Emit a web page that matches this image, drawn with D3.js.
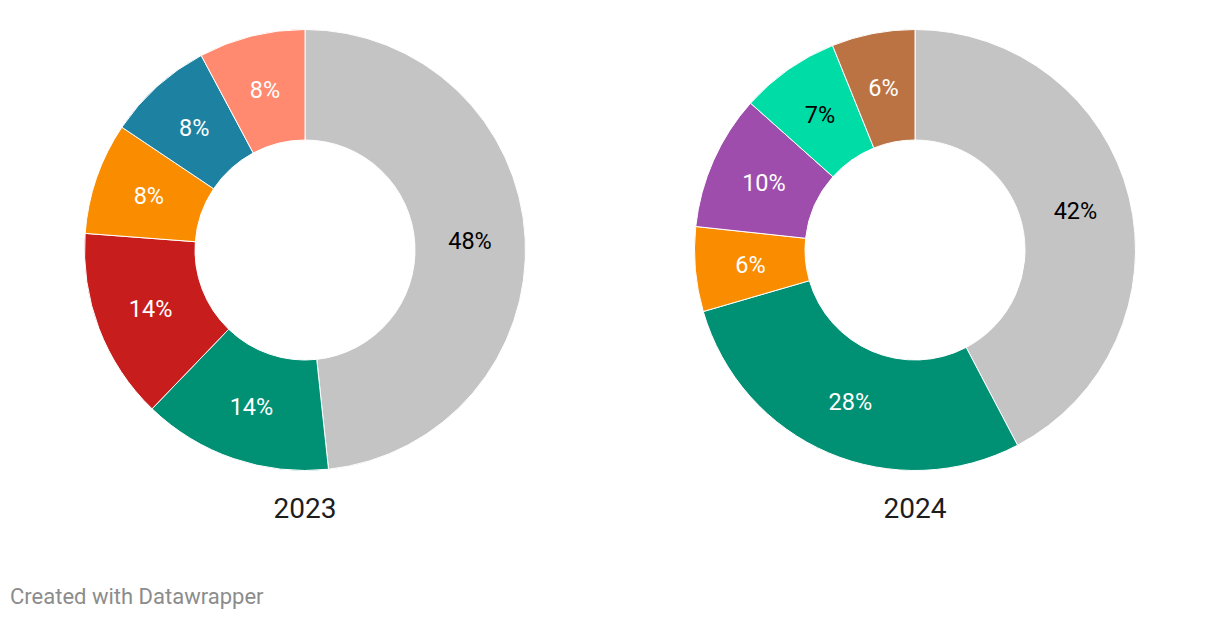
<!DOCTYPE html>
<html>
<head>
<meta charset="utf-8">
<script src="https://cdn.jsdelivr.net/npm/d3@7"></script>
<style>
  html, body { margin: 0; padding: 0; background: #fff; }
  svg { display: block; font-family: Roboto, "Noto Sans", sans-serif; }
</style>
</head>
<body>
<svg id="chart" width="1220" height="620"></svg>
<script>
// Data
const years = ["2023", "2024"];
const categories2023 = ["Gray", "Green", "Red", "Orange", "Blue", "Salmon"];
const values2023 = [48.3, 13.9, 14.0, 8.2, 7.8, 7.8];
const colors2023 = ["#c4c4c4", "#009073", "#c71e1d", "#fa8c00", "#1d81a2", "#ff8a70"];
const labelColors2023 = ["#000", "#fff", "#fff", "#fff", "#fff", "#fff"];

const categories2024 = ["Gray", "Green", "Orange", "Purple", "Teal", "Brown"];
const values2024 = [42.3, 28.2, 6.2, 9.9, 7.3, 6.1];
const colors2024 = ["#c4c4c4", "#009073", "#fa8c00", "#9e4dad", "#00dca6", "#bc7343"];
const labelColors2024 = ["#000", "#fff", "#fff", "#fff", "#000", "#fff"];

const charts = [
  { year: years[0], cats: categories2023, vals: values2023, cols: colors2023, lcols: labelColors2023, cx: 305 },
  { year: years[1], cats: categories2024, vals: values2024, cols: colors2024, lcols: labelColors2024, cx: 915 }
];

const svg = d3.select("#chart");
const cy = 250, rOuter = 220.5, rInner = 110;

const pie = d3.pie().sort(null).value(d => d.v);
const arc = d3.arc().innerRadius(rInner).outerRadius(rOuter);
const labelArc = d3.arc().innerRadius((rInner + rOuter) / 2).outerRadius((rInner + rOuter) / 2);

charts.forEach(c => {
  const data = c.cats.map((k, i) => ({ k, v: c.vals[i], col: c.cols[i], lc: c.lcols[i] }));
  const g = svg.append("g").attr("transform", `translate(${c.cx},${cy})`);
  const arcs = pie(data);
  g.selectAll("path").data(arcs).join("path")
    .attr("d", arc)
    .attr("fill", d => d.data.col)
    .attr("stroke", "#fff")
    .attr("stroke-width", 1);
  g.selectAll("text.lbl").data(arcs).join("text")
    .attr("class", "lbl")
    .attr("transform", d => `translate(${labelArc.centroid(d)})`)
    .attr("text-anchor", "middle")
    .attr("dy", "0.35em")
    .attr("font-size", 23.5)
    .attr("fill", d => d.data.lc)
    .text(d => Math.round(d.data.v) + "%");
  svg.append("text")
    .attr("x", c.cx).attr("y", 518)
    .attr("text-anchor", "middle")
    .attr("font-size", 28)
    .attr("fill", "#1d1d1d")
    .text(c.year);
});

svg.append("text")
  .attr("x", 10).attr("y", 604)
  .attr("font-size", 22)
  .attr("fill", "#8c8c8c")
  .text("Created with Datawrapper");
</script>
</body>
</html>
